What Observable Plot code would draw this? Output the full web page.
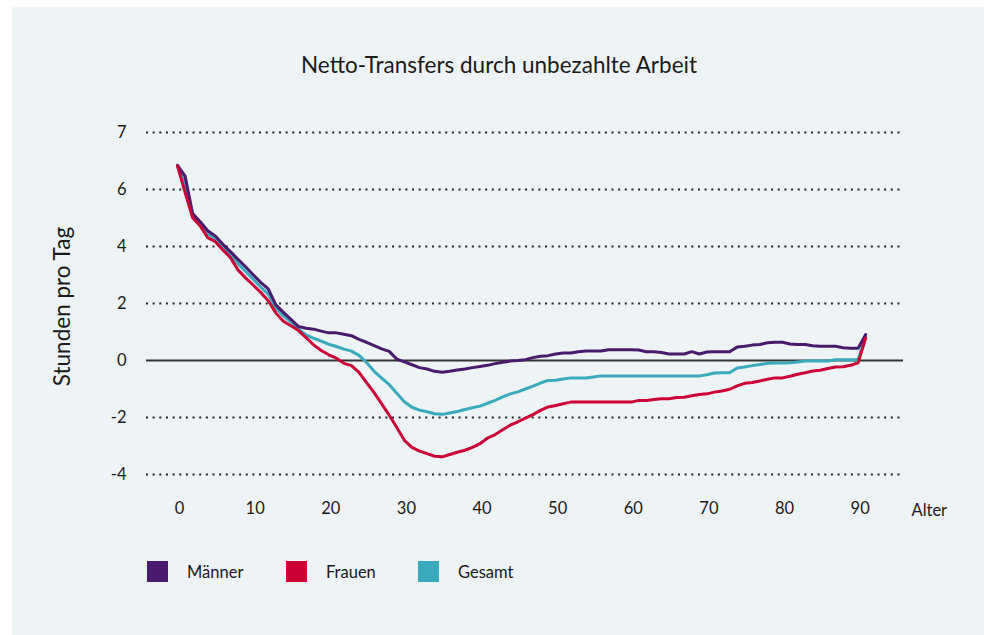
<!DOCTYPE html>
<html>
<head>
<meta charset="utf-8">
<script src="https://cdn.jsdelivr.net/npm/d3@7"></script>
<script src="https://cdn.jsdelivr.net/npm/@observablehq/plot@0.6"></script>
<style>
  html, body { margin: 0; padding: 0; background: #ffffff; width: 984px; height: 635px; overflow: hidden; }
  body { position: relative; font-family: Lato, "Noto Sans", sans-serif; color: #1a1a1a; }
  #panel { position: absolute; left: 12px; top: 7px; right: 0; bottom: 0; background: #eef3f6; }
  #title { position: absolute; left: 0; width: 998px; top: 51px; text-align: center; font-size: 22.5px; }
  #chart { position: absolute; left: 0; top: 0; }
  .leg { position: absolute; top: 561px; height: 21px; display: flex; align-items: center; font-size: 16.5px; }
  .leg span.sw { display: inline-block; width: 21px; height: 21px; margin-right: 19px; }
</style>
</head>
<body>
<div id="panel"></div>
<div id="title">Netto-Transfers durch unbezahlte Arbeit</div>
<div id="chart"></div>
<div id="legend"></div>
<script>
// ---- data ----
const ages = [0,1,2,3,4,5,6,7,8,9,10,11,12,13,14,15,16,17,18,19,20,21,22,23,24,25,26,27,28,29,30,31,32,33,34,35,36,37,38,39,40,41,42,43,44,45,46,47,48,49,50,51,52,53,54,55,56,57,58,59,60,61,62,63,64,65,66,67,68,69,70,71,72,73,74,75,76,77,78,79,80,81,82,83,84,85,86,87,88,89,90,91];

const maenner = [6.85,6.47,5.16,4.87,4.55,4.37,4.08,3.82,3.55,3.29,
  3.01,2.74,2.51,1.95,1.69,1.44,1.19,1.13,1.10,1.03,
  0.97,0.97,0.92,0.87,0.74,0.64,0.52,0.41,0.32,0.05,
  -0.05,-0.15,-0.25,-0.30,-0.38,-0.41,-0.38,-0.33,-0.30,-0.25,
  -0.21,-0.17,-0.11,-0.06,-0.02,0.00,0.03,0.10,0.15,0.17,
  0.23,0.26,0.26,0.31,0.33,0.33,0.33,0.38,0.38,0.38,
  0.38,0.37,0.31,0.31,0.28,0.23,0.23,0.23,0.31,0.23,
  0.30,0.31,0.31,0.31,0.47,0.50,0.54,0.56,0.62,0.64,
  0.64,0.58,0.56,0.56,0.52,0.50,0.50,0.50,0.45,0.43,
  0.43,0.91];

const frauen = [6.82,5.90,5.01,4.72,4.31,4.17,3.88,3.61,3.18,2.90,
  2.65,2.39,2.10,1.67,1.38,1.22,1.05,0.80,0.55,0.35,
  0.20,0.08,-0.10,-0.18,-0.42,-0.78,-1.13,-1.52,-1.92,-2.35,
  -2.80,-3.05,-3.18,-3.27,-3.36,-3.38,-3.30,-3.22,-3.15,-3.05,
  -2.92,-2.72,-2.60,-2.43,-2.27,-2.15,-2.02,-1.90,-1.75,-1.63,
  -1.58,-1.52,-1.46,-1.46,-1.46,-1.46,-1.46,-1.46,-1.46,-1.46,
  -1.46,-1.40,-1.40,-1.37,-1.34,-1.34,-1.30,-1.29,-1.24,-1.19,
  -1.17,-1.11,-1.07,-1.01,-0.89,-0.80,-0.77,-0.72,-0.66,-0.61,
  -0.61,-0.55,-0.48,-0.43,-0.37,-0.34,-0.28,-0.23,-0.22,-0.17,
  -0.08,0.79];

const gesamt = [6.83,6.20,5.08,4.80,4.45,4.28,3.98,3.72,3.40,3.12,
  2.85,2.58,2.33,1.84,1.56,1.36,1.10,0.90,0.78,0.68,
  0.57,0.49,0.40,0.33,0.18,-0.07,-0.38,-0.62,-0.85,-1.15,
  -1.45,-1.64,-1.74,-1.80,-1.87,-1.89,-1.84,-1.79,-1.72,-1.66,
  -1.60,-1.50,-1.40,-1.28,-1.17,-1.10,-1.00,-0.90,-0.79,-0.70,
  -0.69,-0.65,-0.61,-0.61,-0.61,-0.58,-0.54,-0.54,-0.54,-0.54,
  -0.54,-0.54,-0.54,-0.54,-0.54,-0.54,-0.54,-0.54,-0.54,-0.54,
  -0.50,-0.44,-0.43,-0.43,-0.26,-0.23,-0.18,-0.14,-0.10,-0.09,
  -0.09,-0.08,-0.05,-0.02,-0.02,-0.02,-0.02,0.03,0.03,0.03,
  0.03,0.84];

const seriesNames = ["Männer", "Frauen", "Gesamt"];
const seriesColors = ["#4a1a6e", "#cc0035", "#3aabbd"];

const xTicks = [0,10,20,30,40,50,60,70,80,90];
const yTicks = [-4,-2,0,2,4,6,8];
const yTickLabels = ["-4","-2","0","2","4","6","7"];
const xLabel = "Alter";
const yLabel = "Stunden pro Tag";

// ---- table for Plot (drawing order: Gesamt, Männer, Frauen) ----
const bySeries = {"Männer": maenner, "Frauen": frauen, "Gesamt": gesamt};
const rows = [];
for (const s of ["Gesamt", "Männer", "Frauen"]) {
  bySeries[s].forEach((v, i) => rows.push({series: s, age: ages[i], value: v}));
}

const chart = Plot.plot({
  width: 984,
  height: 530,
  marginLeft: 146,
  marginRight: 81,
  marginTop: 132,
  marginBottom: 56,
  style: {background: "transparent", fontFamily: "Lato, 'Noto Sans', sans-serif", fontSize: "16px", color: "#1a1a1a"},
  x: {domain: [-4.1, 96]},
  y: {domain: [-4, 8]},
  color: {domain: seriesNames, range: seriesColors},
  marks: [
    Plot.ruleY(yTicks.filter(d => d !== 0), {stroke: "#222", strokeWidth: 2, strokeDasharray: "2,4.65"}),
    Plot.ruleY([0], {stroke: "#333", strokeWidth: 2}),
    Plot.axisY({ticks: yTicks, tickFormat: d => yTickLabels[yTicks.indexOf(d)], tickSize: 0, tickPadding: 20, label: null, fontSize: 16.5}),
    Plot.axisX({ticks: xTicks, tickFormat: d => String(d), tickSize: 0, tickPadding: 28, label: null, fontSize: 16.5, dx: 2}),
    Plot.line(rows, {x: "age", y: "value", z: "series", stroke: "series", strokeWidth: 3, strokeLinejoin: "round", strokeLinecap: "round"}),
    Plot.text([xLabel], {frameAnchor: "bottom-right", text: d => d, textAnchor: "start", lineAnchor: "middle", dx: 8, dy: 36, fontSize: 16.5}),
    Plot.text([yLabel], {frameAnchor: "left", text: d => d, rotate: -90, textAnchor: "middle", lineAnchor: "middle", dx: -84, dy: 3, fontSize: 22.5})
  ]
});
document.getElementById("chart").appendChild(chart);

// ---- legend ----
const legendX = [147, 286, 418];
const legend = document.getElementById("legend");
seriesNames.forEach((name, i) => {
  const item = document.createElement("div");
  item.className = "leg";
  item.style.left = legendX[i] + "px";
  const sw = document.createElement("span");
  sw.className = "sw";
  sw.style.background = seriesColors[i];
  item.appendChild(sw);
  item.appendChild(document.createTextNode(name));
  legend.appendChild(item);
});
</script>
</body>
</html>
